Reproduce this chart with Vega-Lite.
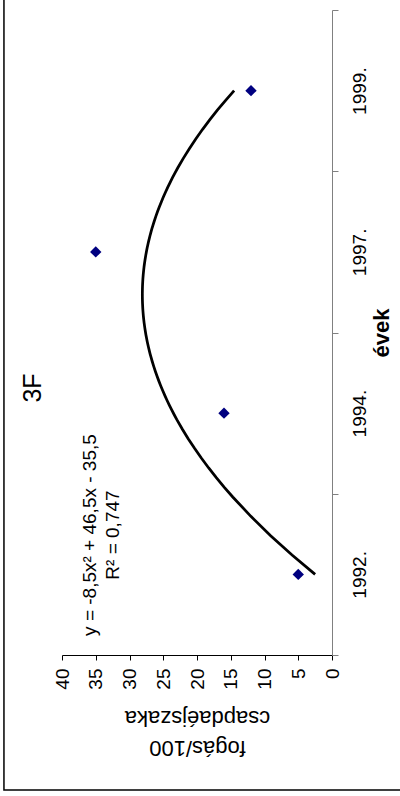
{
  "$schema": "https://vega.github.io/schema/vega-lite/v6.json",
  "width": 270,
  "height": 645,
  "autosize": {"type": "none"},
  "padding": {"left": 62, "top": 10, "right": 68, "bottom": 141},
  "background": "white",
  "config": {
    "view": {"stroke": null},
    "font": "Liberation Sans",
    "axis": {"labelFont": "Liberation Sans", "titleFont": "Liberation Sans", "labelColor": "black", "titleColor": "black", "grid": false},
    "axisX": {
      "titleAngle": 180,
      "titleBaseline": "bottom",
      "titleAlign": "center",
      "titleFontSize": 22,
      "titleFontWeight": "normal",
      "titleLineHeight": 30,
      "titlePadding": 46,
      "labelAngle": 270,
      "labelAlign": "right",
      "labelBaseline": "middle",
      "labelFontSize": 19,
      "labelPadding": 8,
      "labelFlush": false,
      "labelOverlap": false,
      "tickSize": 5,
      "tickColor": "black",
      "domainColor": "black"
    }
  },
  "data": {
    "values": [
      {"ev": "1992.", "i": 1, "v": 5},
      {"ev": "1994.", "i": 2, "v": 16},
      {"ev": "1997.", "i": 3, "v": 35},
      {"ev": "1999.", "i": 4, "v": 12}
    ]
  },
  "resolve": {"scale": {"y": "independent"}, "axis": {"y": "independent"}},
  "layer": [
    {
      "mark": {"type": "point", "shape": "diamond", "filled": true, "color": "#000080", "size": 130, "opacity": 1},
      "encoding": {
        "x": {
          "field": "v", "type": "quantitative",
          "scale": {"domain": [0, 40], "reverse": true, "nice": false},
          "axis": {"values": [0, 5, 10, 15, 20, 25, 30, 35, 40], "title": ["fogás/100", "csapdaéjszaka"]}
        },
        "y": {
          "field": "ev", "type": "ordinal", "sort": "descending",
          "scale": {"paddingInner": 0, "paddingOuter": 0},
          "axis": {
            "orient": "right",
            "tickBand": "extent",
            "title": "évek",
            "titleAngle": 270,
            "titleAlign": "center",
            "titleBaseline": "top",
            "titleFontSize": 22,
            "titleFontWeight": "bold",
            "titlePadding": 2,
            "labelAngle": 270,
            "labelAlign": "center",
            "labelBaseline": "top",
            "labelFontSize": 19,
            "labelPadding": 12,
            "tickSize": 6,
            "tickColor": "#808080",
            "domainColor": "#808080"
          }
        }
      }
    },
    {
      "layer": [
        {
          "transform": [{"regression": "v", "on": "i", "method": "poly", "order": 2, "extent": [1, 4]}],
          "mark": {"type": "line", "color": "black", "strokeWidth": 2.75},
          "encoding": {
            "x": {"field": "v", "type": "quantitative", "axis": {"values": [0, 5, 10, 15, 20, 25, 30, 35, 40], "title": ["fogás/100", "csapdaéjszaka"]}},
            "y": {"field": "i", "type": "quantitative", "scale": {"domain": [0.5, 4.5], "nice": false, "zero": false}, "axis": null},
            "order": {"field": "i", "type": "quantitative"}
          }
        },
        {
          "data": {"values": [{}]},
          "mark": {"type": "text", "text": ["y = -8,5x² + 46,5x - 35,5", "R² = 0,747"], "angle": 270, "align": "center", "baseline": "middle", "fontSize": 19, "lineHeight": 23, "color": "black"},
          "encoding": {
            "x": {"datum": 35.8, "axis": {"values": [0, 5, 10, 15, 20, 25, 30, 35, 40], "title": ["fogás/100", "csapdaéjszaka"]}},
            "y": {"datum": 1.244, "axis": null}
          }
        },
        {
          "data": {"values": [{}]},
          "mark": {"type": "text", "text": "3F", "angle": 270, "align": "center", "baseline": "middle", "fontSize": 25, "color": "black"},
          "encoding": {
            "x": {"datum": 44.3, "axis": {"values": [0, 5, 10, 15, 20, 25, 30, 35, 40], "title": ["fogás/100", "csapdaéjszaka"]}},
            "y": {"datum": 2.156, "axis": null}
          }
        },
        {
          "data": {"values": [{}]},
          "mark": {"type": "rect", "filled": false, "stroke": "black", "strokeWidth": 1.5},
          "encoding": {
            "x": {"datum": 48.6, "axis": {"values": [0, 5, 10, 15, 20, 25, 30, 35, 40], "title": ["fogás/100", "csapdaéjszaka"]}},
            "x2": {"datum": -15},
            "y": {"datum": -0.337, "axis": null},
            "y2": {"datum": 5}
          }
        }
      ]
    }
  ]
}
